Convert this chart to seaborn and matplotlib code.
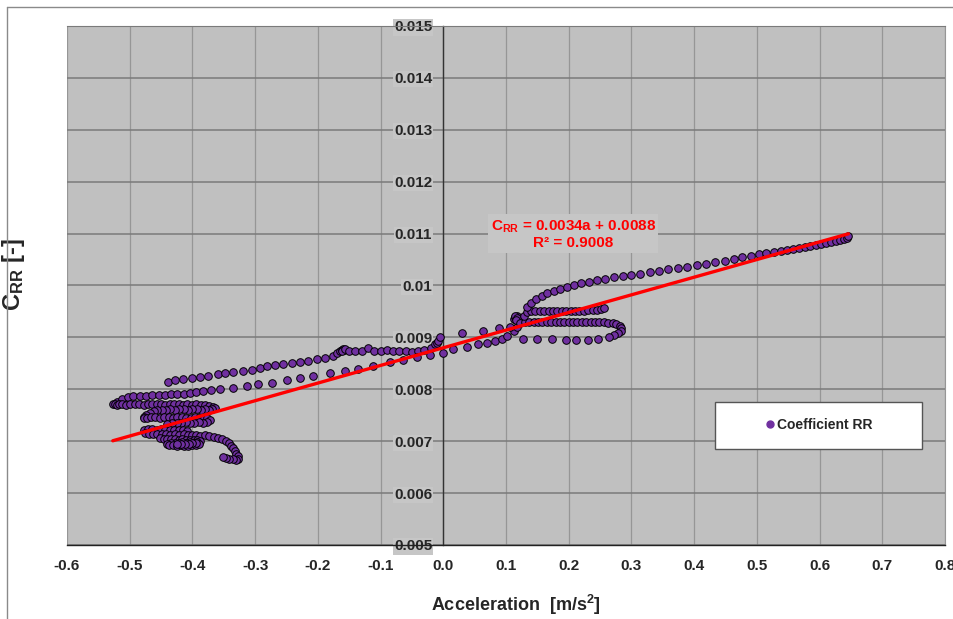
import matplotlib
matplotlib.use('Agg')
from matplotlib import pyplot as plt
from matplotlib.ticker import MultipleLocator, FuncFormatter
from matplotlib.lines import Line2D
import seaborn as sns
import numpy as np

# regression shown on the chart
SLOPE = 0.0034
INTERCEPT = 0.0088
R2 = 0.9008

upper_left_x = [-0.439, -0.427, -0.415, -0.401, -0.388, -0.375, -0.360, -0.348, -0.335, -0.320,
                -0.305, -0.293, -0.281, -0.268, -0.255, -0.241, -0.228, -0.215, -0.201, -0.188,
                -0.176, -0.169, -0.164, -0.162, -0.160, -0.158, -0.161, -0.157]
upper_left_y = [0.00815, 0.00817, 0.00819, 0.00821, 0.00823, 0.00826, 0.00829, 0.00831, 0.00833, 0.00836,
                0.00838, 0.00841, 0.00844, 0.00846, 0.00848, 0.00850, 0.00852, 0.00855, 0.00858, 0.00861,
                0.00865, 0.00869, 0.00873, 0.00876, 0.00877, 0.00875, 0.00874, 0.00877]

flat_x = [-0.150, -0.140, -0.130, -0.120, -0.110, -0.100, -0.090, -0.080, -0.070, -0.060,
          -0.050, -0.040, -0.030, -0.020, -0.013, -0.010, -0.008, -0.005]
flat_y = [0.00874, 0.00873, 0.00874, 0.00880, 0.00874, 0.00873, 0.00875, 0.00873, 0.00874, 0.00873,
          0.00872, 0.00874, 0.00876, 0.00880, 0.00887, 0.00889, 0.00893, 0.00900]

lower_left_x = [-0.520, -0.512, -0.503, -0.494, -0.484, -0.474, -0.464, -0.454, -0.444, -0.434,
                -0.424, -0.414, -0.404, -0.394, -0.383, -0.370, -0.356, -0.335, -0.313, -0.295,
                -0.273, -0.249, -0.228, -0.207, -0.180, -0.156, -0.136, -0.112, -0.085, -0.064,
                -0.042, -0.021, 0.000, 0.016, 0.038, 0.056, 0.070, 0.083, 0.094, 0.102,
                0.112, 0.118]
lower_left_y = [0.00776, 0.00781, 0.00785, 0.00787, 0.00788, 0.00788, 0.00789, 0.00789, 0.00789, 0.00790,
                0.00790, 0.00791, 0.00793, 0.00794, 0.00796, 0.00798, 0.00800, 0.00802, 0.00806, 0.00810,
                0.00813, 0.00817, 0.00821, 0.00825, 0.00831, 0.00835, 0.00840, 0.00844, 0.00852, 0.00856,
                0.00862, 0.00867, 0.00869, 0.00877, 0.00881, 0.00887, 0.00890, 0.00894, 0.00896, 0.00902,
                0.00912, 0.00921]

center_upper_x = [0.030, 0.064, 0.089, 0.107, 0.113, 0.115, 0.117, 0.114, 0.118, 0.116]
center_upper_y = [0.00908, 0.00912, 0.00919, 0.00921, 0.00936, 0.00939, 0.00941, 0.00942, 0.00937, 0.00934]

mid_x = [0.123, 0.130, 0.137, 0.144, 0.151, 0.158, 0.165, 0.172, 0.179, 0.186,
         0.193, 0.200, 0.207, 0.214, 0.221, 0.228, 0.235, 0.242, 0.249, 0.256,
         0.263, 0.270, 0.276, 0.281, 0.284, 0.283, 0.279, 0.273]
mid_y = [0.00927, 0.00929, 0.00929, 0.00930, 0.00929, 0.00929, 0.00930, 0.00929, 0.00929, 0.00929,
         0.00930, 0.00929, 0.00929, 0.00929, 0.00929, 0.00930, 0.00929, 0.00929, 0.00929, 0.00929,
         0.00928, 0.00927, 0.00925, 0.00922, 0.00918, 0.00913, 0.00909, 0.00905]

s_lower_x = [0.264, 0.246, 0.230, 0.212, 0.195, 0.174, 0.150, 0.127]
s_lower_y = [0.00901, 0.00897, 0.00895, 0.00895, 0.00895, 0.00896, 0.00896, 0.00896]

inner_x = [0.128, 0.133, 0.140, 0.147, 0.154, 0.161, 0.168, 0.175, 0.182, 0.189,
           0.196, 0.203, 0.210, 0.217, 0.224, 0.231, 0.238, 0.245, 0.251, 0.257]
inner_y = [0.00942, 0.00948, 0.00950, 0.00950, 0.00951, 0.00950, 0.00950, 0.00951, 0.00950, 0.00950,
           0.00951, 0.00950, 0.00950, 0.00951, 0.00951, 0.00952, 0.00952, 0.00953, 0.00955, 0.00957]

upper_right_x = [0.134, 0.140, 0.148, 0.157, 0.166, 0.176, 0.186, 0.197, 0.208, 0.220,
                 0.232, 0.245, 0.258, 0.272, 0.286, 0.300, 0.314, 0.329, 0.344, 0.359,
                 0.374, 0.389, 0.404, 0.419, 0.434, 0.449, 0.463, 0.477, 0.490, 0.503,
                 0.515, 0.527, 0.538, 0.548, 0.558, 0.567, 0.576, 0.585, 0.594, 0.603,
                 0.611, 0.619, 0.626, 0.633, 0.639, 0.644, 0.646]
upper_right_y = [0.00958, 0.00967, 0.00974, 0.00980, 0.00985, 0.00990, 0.00994, 0.00998, 0.01001, 0.01004,
                 0.01007, 0.01010, 0.01013, 0.01016, 0.01018, 0.01021, 0.01023, 0.01026, 0.01028, 0.01031,
                 0.01034, 0.01036, 0.01039, 0.01042, 0.01045, 0.01048, 0.01051, 0.01054, 0.01057, 0.01060,
                 0.01062, 0.01064, 0.01066, 0.01068, 0.01070, 0.01072, 0.01074, 0.01076, 0.01078, 0.01080,
                 0.01082, 0.01084, 0.01086, 0.01088, 0.01090, 0.01092, 0.01095]

row_a_x = [-0.527, -0.524, -0.521, -0.517, -0.512, -0.506, -0.499, -0.492, -0.485, -0.478,
           -0.471, -0.464, -0.457, -0.450, -0.443, -0.436, -0.429, -0.422, -0.415, -0.408,
           -0.401, -0.394, -0.387, -0.380, -0.373, -0.367]
row_a_y = [0.00771, 0.00772, 0.00770, 0.00772, 0.00771, 0.00770, 0.00771, 0.00772, 0.00771, 0.00770,
           0.00771, 0.00771, 0.00772, 0.00771, 0.00770, 0.00771, 0.00772, 0.00771, 0.00770, 0.00771,
           0.00770, 0.00771, 0.00770, 0.00769, 0.00768, 0.00766]

row_b_x = [-0.364, -0.368, -0.374, -0.380, -0.386, -0.393, -0.400, -0.407, -0.414, -0.421,
           -0.428, -0.435, -0.442, -0.449, -0.456, -0.462]
row_b_y = [0.00764, 0.00762, 0.00761, 0.00762, 0.00761, 0.00762, 0.00762, 0.00761, 0.00762, 0.00762,
           0.00761, 0.00762, 0.00761, 0.00761, 0.00760, 0.00758]

row_c_x = [-0.468, -0.474, -0.478, -0.477, -0.472, -0.466, -0.459, -0.452, -0.445, -0.438,
           -0.431, -0.424, -0.417, -0.410, -0.403, -0.396, -0.389, -0.382, -0.376, -0.372]
row_c_y = [0.00754, 0.00750, 0.00746, 0.00744, 0.00745, 0.00746, 0.00746, 0.00745, 0.00746, 0.00746,
           0.00745, 0.00746, 0.00746, 0.00745, 0.00745, 0.00746, 0.00745, 0.00745, 0.00744, 0.00741]

row_d_x = [-0.376, -0.383, -0.390, -0.397, -0.404, -0.411, -0.418, -0.425, -0.432, -0.440]
row_d_y = [0.00737, 0.00736, 0.00737, 0.00736, 0.00736, 0.00737, 0.00736, 0.00735, 0.00735, 0.00733]

row_e_x = [-0.478, -0.471, -0.464, -0.457, -0.450, -0.443, -0.436, -0.429, -0.422, -0.415, -0.408]
row_e_y = [0.00721, 0.00723, 0.00723, 0.00722, 0.00723, 0.00722, 0.00722, 0.00721, 0.00722, 0.00721, 0.00720]

row_f_x = [-0.476, -0.470, -0.463, -0.456, -0.449, -0.442, -0.435, -0.428, -0.421, -0.414,
           -0.407, -0.400, -0.394, -0.388]
row_f_y = [0.00715, 0.00713, 0.00714, 0.00713, 0.00714, 0.00713, 0.00712, 0.00713, 0.00712, 0.00713,
           0.00712, 0.00711, 0.00711, 0.00710]

cluster_x = [-0.452, -0.446, -0.440, -0.434, -0.428, -0.422, -0.416, -0.410, -0.404, -0.398,
             -0.392, -0.388, -0.392, -0.398, -0.404, -0.410, -0.416, -0.422, -0.428, -0.434,
             -0.440, -0.437, -0.431, -0.425, -0.419, -0.413, -0.407, -0.401, -0.395, -0.390,
             -0.394, -0.400, -0.406, -0.412, -0.418, -0.424]
cluster_y = [0.00706, 0.00705, 0.00704, 0.00705, 0.00704, 0.00703, 0.00704, 0.00703, 0.00703, 0.00702,
             0.00702, 0.00700, 0.00698, 0.00697, 0.00698, 0.00697, 0.00698, 0.00697, 0.00697, 0.00696,
             0.00695, 0.00692, 0.00692, 0.00691, 0.00692, 0.00691, 0.00691, 0.00692, 0.00692, 0.00694,
             0.00696, 0.00696, 0.00695, 0.00694, 0.00695, 0.00694]

tail_x = [-0.380, -0.373, -0.366, -0.359, -0.353, -0.347, -0.342, -0.338, -0.335, -0.332,
          -0.330, -0.328, -0.327, -0.331, -0.336, -0.341, -0.346, -0.351]
tail_y = [0.00711, 0.00710, 0.00709, 0.00707, 0.00704, 0.00700, 0.00696, 0.00691, 0.00686, 0.00681,
          0.00676, 0.00671, 0.00666, 0.00664, 0.00665, 0.00666, 0.00667, 0.00669]

branches = [(upper_left_x, upper_left_y), (flat_x, flat_y), (lower_left_x, lower_left_y),
            (center_upper_x, center_upper_y), (mid_x, mid_y), (s_lower_x, s_lower_y),
            (inner_x, inner_y), (upper_right_x, upper_right_y), (row_a_x, row_a_y),
            (row_b_x, row_b_y), (row_c_x, row_c_y), (row_d_x, row_d_y), (row_e_x, row_e_y),
            (row_f_x, row_f_y), (cluster_x, cluster_y), (tail_x, tail_y)]


def fmt_x(v, pos):
    return f'{round(v, 2) + 0.0:.1f}'


def fmt_y(v, pos):
    return f'{v:g}'


def plot():
    sns.set_style('white')
    plt.rcParams['font.family'] = ['Liberation Sans', 'DejaVu Sans']
    plt.rcParams['font.weight'] = 'bold'
    plt.rcParams['axes.labelweight'] = 'bold'
    plt.rcParams['mathtext.default'] = 'regular'
    plt.rcParams['axes.unicode_minus'] = False

    acc = np.concatenate([np.array(b[0]) for b in branches])
    crr = np.concatenate([np.array(b[1]) for b in branches])

    fig = plt.figure(figsize=(9.54, 6.19), dpi=100)
    ax = fig.add_axes([67 / 954, 74 / 619, 878 / 954, 519 / 619])
    ax.set_facecolor('#c0c0c0')

    sns.scatterplot(x=acc, y=crr, ax=ax, color='#7030a0', edgecolor='black',
                    linewidth=0.7, s=30, legend=False, zorder=3)
    fit_x = np.array([acc.min(), acc.max()])
    sns.lineplot(x=fit_x, y=SLOPE * fit_x + INTERCEPT, ax=ax, color='red',
                 linewidth=2.4, zorder=4, legend=False)

    ax.set_xlim(-0.6, 0.8)
    ax.set_ylim(0.005, 0.015)
    ax.xaxis.set_major_locator(MultipleLocator(0.1))
    ax.xaxis.set_minor_locator(MultipleLocator(0.02))
    ax.yaxis.set_major_locator(MultipleLocator(0.001))
    ax.yaxis.set_minor_locator(MultipleLocator(0.0005))
    ax.xaxis.set_major_formatter(FuncFormatter(fmt_x))
    ax.yaxis.set_major_formatter(FuncFormatter(fmt_y))

    ax.set_axisbelow(True)
    ax.xaxis.grid(True, which='major', color='#969696', linewidth=0.9)
    ax.yaxis.grid(True, which='major', color='#7a7a7a', linewidth=1.1)

    ax.spines['left'].set_position(('data', 0))
    ax.spines['left'].set_color('#333333')
    ax.spines['left'].set_linewidth(1.0)
    ax.spines['bottom'].set_color('#222222')
    ax.spines['bottom'].set_linewidth(1.0)
    ax.spines['top'].set_color('#7a7a7a')
    ax.spines['right'].set_color('#969696')

    ax.tick_params(axis='x', which='major', direction='out', length=4.5, width=0.8,
                   pad=5.5, labelsize=11, color='#222222')
    ax.tick_params(axis='x', which='minor', direction='out', length=2.5, width=0.8, color='#222222')
    ax.tick_params(axis='y', which='major', direction='out', length=4, width=0.8,
                   pad=4, labelsize=11, color='#333333')
    ax.tick_params(axis='y', which='minor', direction='out', length=2.5, width=0.8, color='#333333')
    for lbl in ax.get_yticklabels():
        lbl.set_bbox(dict(facecolor='#c6c6c6', edgecolor='none', pad=0.8))

    ax.set_ylabel('$C_{RR}$ [-]', fontsize=17, fontweight='bold')
    ax.yaxis.set_label_coords(-0.046, 0.52)
    ax.set_xlabel('Acceleration  [m/s$^2$]', fontsize=13, fontweight='bold')
    ax.xaxis.set_label_coords(0.511, -0.093)

    ax.text(0.207, 0.01099, f'$C_{{RR}}$ = {SLOPE}a + {INTERCEPT}\nR² = {R2}',
            ha='center', va='center', color='red', fontsize=11, linespacing=1.1,
            bbox=dict(facecolor='#c6c6c6', edgecolor='none', pad=2), zorder=5)

    handle = Line2D([], [], marker='o', linestyle='', color='#7030a0', markersize=5,
                    label='Coefficient RR')
    leg = ax.legend(handles=[handle], loc='lower left',
                    bbox_to_anchor=(0.738, 0.185, 0.236, 0.094), mode='expand',
                    borderaxespad=0, frameon=True, fancybox=False, edgecolor='#555555',
                    facecolor='white', framealpha=1, borderpad=1.2, handlelength=5.5,
                    handletextpad=-2.25, prop={'weight': 'bold', 'size': 10})
    leg.get_frame().set_linewidth(1.0)

    # outer frame of the picture (only left and top edges visible)
    fig.add_artist(Line2D([7 / 954, 7 / 954], [0, 1 - 7 / 619], color='#8a8a8a',
                          linewidth=1, transform=fig.transFigure))
    fig.add_artist(Line2D([7 / 954, 1], [1 - 7 / 619, 1 - 7 / 619], color='#8a8a8a',
                          linewidth=1, transform=fig.transFigure))

    fig.savefig('out.png', dpi=100)


if __name__ == '__main__':
    plot()
